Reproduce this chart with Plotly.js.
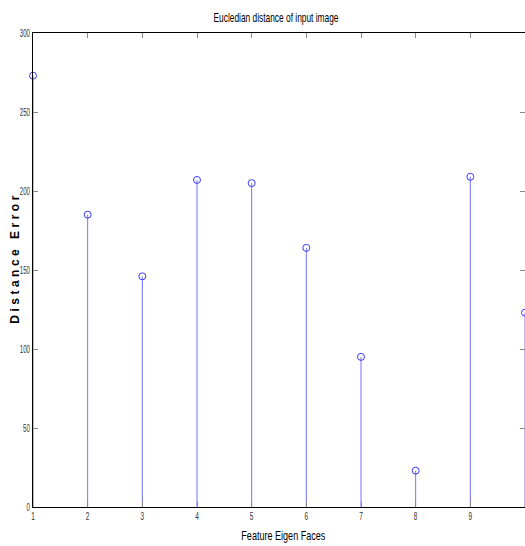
<!DOCTYPE html>
<html><head><meta charset="utf-8">
<script src="https://cdn.plot.ly/plotly-3.0.1.min.js"></script>
<style>html,body{margin:0;padding:0;background:#fff;}#chart{width:525px;height:546px;}</style>
</head><body><div id="chart"></div>
<script>
const faces = [1,2,3,4,5,6,7,8,9,10];
const distances = [273, 185, 146, 207, 205, 164, 95, 23, 209, 123];
const titleText = "Eucledian distance of input image";
const xTitle = "Feature Eigen Faces";
const yTitle = "Distance Error";
const yTicks = [0,50,100,150,200,250,300];

const sx = [], sy = [];
faces.forEach((f,i)=>{ sx.push(f,f,null); sy.push(0,distances[i],null); });

const stemColor = '#7373ff';
const traces = [
  {x: sx, y: sy, mode:'lines', line:{color: stemColor, width:1}, hoverinfo:'skip', showlegend:false},
  {x: faces, y: distances, mode:'markers', marker:{symbol:'circle-open', size:7, color:'#3a3aff', line:{width:1, color:'#3a3aff'}}, showlegend:false, cliponaxis:false}
];
const fam = '"Liberation Sans", Arial, sans-serif';
const tickFont = {family:fam, size:10, color:'#333'};
const layout = {
  width:525, height:546,
  margin:{l:33, r:0, t:33, b:39, pad:0},
  paper_bgcolor:'#fff', plot_bgcolor:'#fff',
  title:{text:titleText, xref:'paper', x:(276-33)/492, xanchor:'center', y:1-17/546, yanchor:'middle',
         font:{family:fam, size:13, color:'#000'}},
  xaxis:{range:[1,10], tickvals:faces, ticks:'inside', ticklen:5, tickcolor:'#888', tickwidth:1,
         showgrid:false, zeroline:false, showline:true, linecolor:'#000', linewidth:1, mirror:'ticks',
         tickfont:tickFont},
  yaxis:{range:[0,300], tickvals:yTicks, ticks:'inside', ticklen:5, tickcolor:'#888', tickwidth:1,
         showgrid:false, zeroline:false, showline:true, linecolor:'#000', linewidth:1, mirror:'ticks',
         tickfont:tickFont},
  annotations:[
    {text:yTitle, xref:'paper', yref:'paper', x:-18/492, y:0.5+10/474, textangle:-90,
     showarrow:false, xanchor:'center', yanchor:'middle',
     font:{family:fam, size:12, color:'#000', weight:'bold'}},
    {text:xTitle, xref:'paper', yref:'paper', x:(283-33)/492, y:-28/474,
     showarrow:false, xanchor:'center', yanchor:'middle',
     font:{family:fam, size:13, color:'#000'}}
  ]
};
function squeezeTo(el, target, adjust){
  el.setAttribute('textLength', String(target)); el.setAttribute('lengthAdjust', adjust||'spacingAndGlyphs');
}
function squeeze(sel, factor){
  document.querySelectorAll(sel).forEach(t=>{
    const L = t.getComputedTextLength();
    if(L>0) squeezeTo(t, (L*factor).toFixed(1));
  });
}
Plotly.newPlot('chart', traces, layout, {displayModeBar:false, staticPlot:true}).then(()=>{
  document.querySelectorAll('.gtitle').forEach(t=>squeezeTo(t, 125));
  squeeze('.xtick text', 0.65);
  squeeze('.ytick text', 0.62);
  const ann = document.querySelectorAll('.annotation-text');
  if(ann[0]) squeezeTo(ann[0], 128, 'spacing');
  if(ann[1]) squeezeTo(ann[1], 84);
});
</script></body></html>
